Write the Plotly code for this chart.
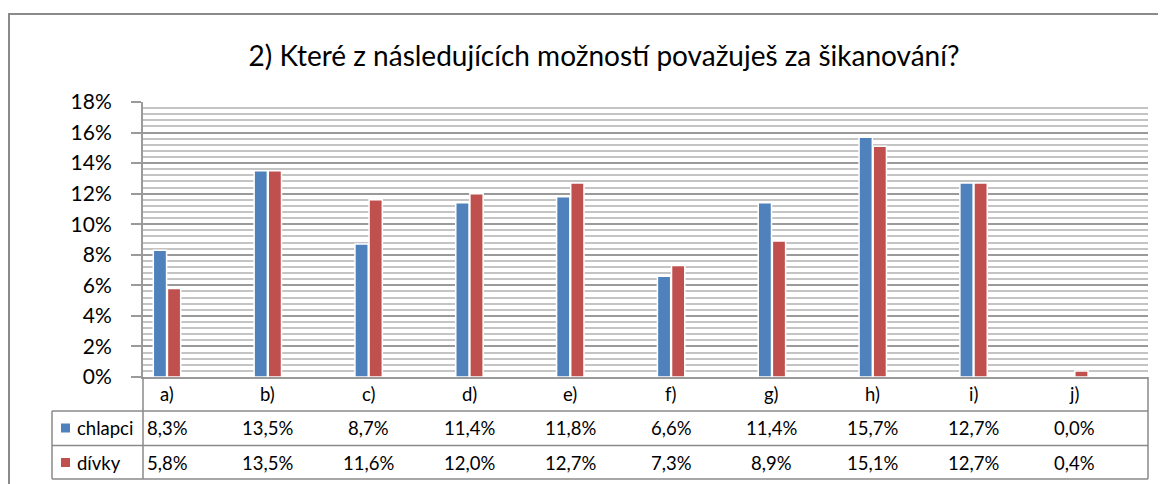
import plotly.graph_objects as go

categories = ["a)", "b)", "c)", "d)", "e)", "f)", "g)", "h)", "i)", "j)"]
series_names = ["chlapci", "dívky"]
chlapci = [8.3, 13.5, 8.7, 11.4, 11.8, 6.6, 11.4, 15.7, 12.7, 0.0]
divky = [5.8, 13.5, 11.6, 12.0, 12.7, 7.3, 8.9, 15.1, 12.7, 0.4]
colors = ["#4F81BD", "#C0504D"]
title_text = "2) Které z následujících možností považuješ za šikanování?"

OFF = 8  # browser default body margin
W, H = 1166 - OFF, 484 - OFF
L, R, T, B = 143 - OFF, 1148 - OFF, 102 - OFF, 377 - OFF
PW, PH = R - L, B - T
FONT = "Lato"
GRID = "#9a9a9a"
LINE = "#8a8a8a"


def px(xs):
    return (xs - OFF - L) / PW


def py(ys):
    return (B - (ys - OFF)) / PH


def fmt(v):
    return f"{v:.1f}".replace(".", ",") + "%"


fig = go.Figure()
for name, vals, col in zip(series_names, [chlapci, divky], colors):
    fig.add_trace(go.Bar(
        x=categories, y=vals, name=name,
        marker=dict(color=col, line=dict(color="white", width=1.5)),
        showlegend=False, hoverinfo="skip",
    ))

shapes = []
# outer chart border
shapes.append(dict(type="rect", xref="paper", yref="paper",
                   x0=px(9), x1=px(1180), y0=py(14), y1=py(500),
                   line=dict(color=LINE, width=2), layer="below"))
# data table lines
row_lines = [411, 445.5, 479]
for yl in row_lines:
    shapes.append(dict(type="line", xref="paper", yref="paper",
                       x0=px(52), x1=px(1148), y0=py(yl), y1=py(yl),
                       line=dict(color=LINE, width=1.5)))
shapes.append(dict(type="line", xref="paper", yref="paper",
                   x0=px(52), x1=px(52), y0=py(411), y1=py(479),
                   line=dict(color=LINE, width=1.5)))
for xl in [143, 1148]:
    shapes.append(dict(type="line", xref="paper", yref="paper",
                       x0=px(xl), x1=px(xl), y0=py(377), y1=py(479),
                       line=dict(color=LINE, width=1.5)))
# legend keys
key_y = [428, 462.5]
for ky, col in zip(key_y, colors):
    shapes.append(dict(type="rect", xref="paper", yref="paper",
                       x0=px(61), x1=px(70), y0=py(ky - 4.5), y1=py(ky + 4.5),
                       fillcolor=col, line=dict(width=0)))

TFS = 18.5
annotations = []
# category labels row
for c in categories:
    annotations.append(dict(x=c, xref="x", y=py(394), yref="paper",
                            text=c, showarrow=False,
                            font=dict(family=FONT, size=TFS, color="black"),
                            xanchor="center", yanchor="middle"))
# table rows
for name, vals, ky in zip(series_names, [chlapci, divky], key_y):
    annotations.append(dict(x=px(75), xref="paper", y=py(ky), yref="paper",
                            text=name, showarrow=False, xanchor="left",
                            yanchor="middle",
                            font=dict(family=FONT, size=TFS, color="black")))
    for c, v in zip(categories, vals):
        annotations.append(dict(x=c, xref="x", y=py(ky), yref="paper",
                                text=fmt(v), showarrow=False,
                                xanchor="center", yanchor="middle",
                                font=dict(family=FONT, size=TFS, color="black")))

fig.update_layout(
    width=W, height=H,
    margin=dict(l=L, r=W - R, t=T, b=H - B, pad=0),
    paper_bgcolor="white", plot_bgcolor="white",
    title=dict(text=title_text, x=(604 - OFF) / W, xanchor="center",
               y=1 - (56 - OFF) / H, yanchor="middle",
               font=dict(family=FONT, size=28, color="black")),
    barmode="group", bargap=0.72, bargroupgap=0.06,
    shapes=shapes, annotations=annotations,
    xaxis=dict(range=[-0.238, 9.73], showticklabels=False, ticks="",
               showline=True, linecolor=GRID, linewidth=2,
               showgrid=False, zeroline=False, fixedrange=True),
    yaxis=dict(range=[0, 18], dtick=2, ticksuffix="%",
               showline=True, linecolor=GRID, linewidth=2,
               ticks="outside", ticklen=10, tickcolor=GRID, tickwidth=2,
               ticklabelstandoff=15,
               showgrid=True, gridcolor=GRID, gridwidth=2,
               minor=dict(dtick=0.4, showgrid=True, gridcolor="#c4c4c4",
                          gridwidth=1.5, ticks=""),
               zeroline=False,
               tickfont=dict(family=FONT, size=21, color="black")),
)

fig.write_html("out.html")
